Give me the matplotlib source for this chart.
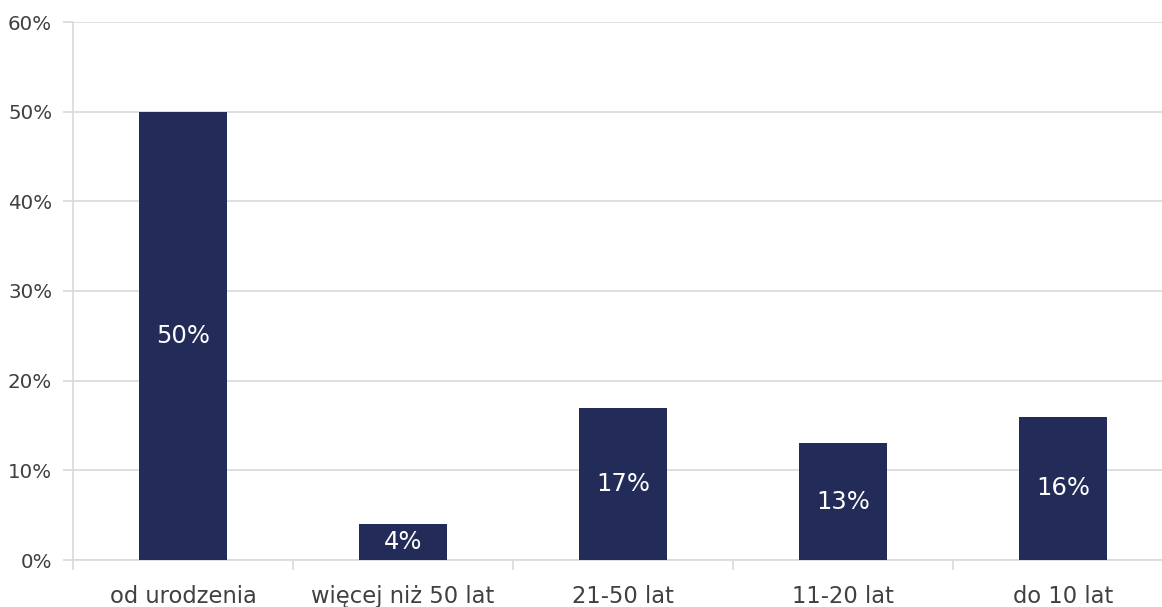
import numpy as np
import matplotlib.pyplot as plt
import matplotlib as mpl

mpl.rcParams['font.family'] = ['DejaVu Sans']

categories = ['od urodzenia', 'więcej niż 50 lat', '21-50 lat', '11-20 lat', 'do 10 lat']
values = [50, 4, 17, 13, 16]
yticks = [0, 10, 20, 30, 40, 50, 60]

bar_color = '#232b59'
grid_color = '#d9d9d9'
text_color = '#404040'

fig = plt.figure(figsize=(11.62, 6.07), dpi=100)
ax = fig.add_axes([73 / 1162, 47 / 607, 1100 / 1162, 538 / 607])

x = np.arange(len(categories))
ax.bar(x, values, width=0.4, color=bar_color, zorder=3)

for xi, v in zip(x, values):
    ax.text(xi, v / 2, f'{v}%', ha='center', va='center', color='white',
            fontsize=17.5, zorder=4)

ax.set_xlim(-0.5, len(categories) - 0.5)
ax.set_ylim(0, 60)
ax.set_yticks(yticks)
ax.set_yticklabels([f'{t}%' for t in yticks])
ax.set_xticks(x)
ax.set_xticklabels(categories)
ax.set_xticks(np.arange(-0.5, len(categories), 1), minor=True)

ax.yaxis.grid(True, color=grid_color, lw=1.2, zorder=0)
ax.tick_params(axis='y', length=7, color=grid_color, width=1.2,
               labelsize=14.3, labelcolor=text_color, pad=8)
ax.tick_params(axis='x', which='major', length=0, labelsize=16.3,
               labelcolor=text_color, pad=18)
ax.tick_params(axis='x', which='minor', length=7, color=grid_color, width=1.2)

for s in ['top', 'right']:
    ax.spines[s].set_visible(False)
for s in ['left', 'bottom']:
    ax.spines[s].set_color(grid_color)
    ax.spines[s].set_linewidth(1.2)

plt.savefig('out.png', dpi=100)
